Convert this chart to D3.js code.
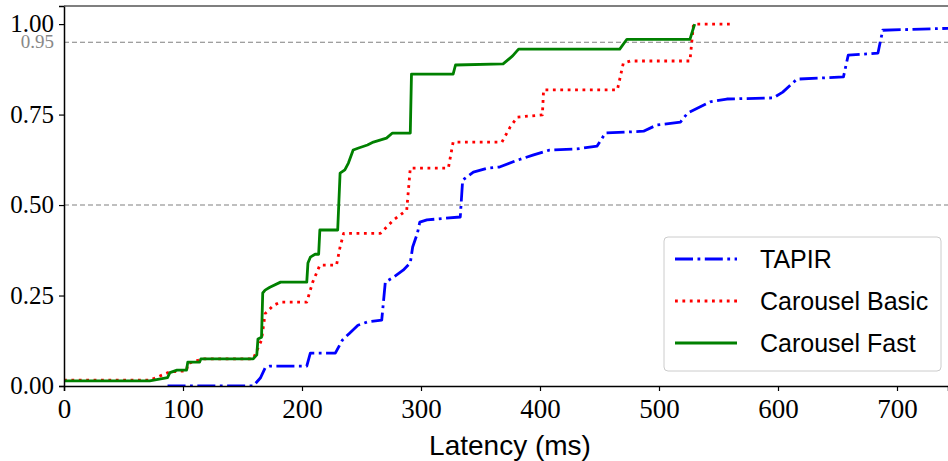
<!DOCTYPE html>
<html>
<head>
<meta charset="utf-8">
<script src="https://cdn.jsdelivr.net/npm/d3@7"></script>
<style>
	body { margin: 0; background: #fff; }
	.tick text { font-family: "Liberation Serif", "DejaVu Serif", serif; fill: #000; }
	.legend text { font-family: "Liberation Sans", Arial, sans-serif; }
</style>
</head>
<body>
<svg class="chart"></svg>
<script>
// Series names (legend order)
var seriesNames = ["TAPIR", "Carousel Basic", "Carousel Fast"];

// TAPIR latency (ms) and cumulative fraction
var tapirLatency = [87, 159, 162, 165, 169, 173, 204, 207, 228, 234, 240, 247, 255, 267, 270, 277, 285, 291, 293, 297, 299, 305, 333, 335, 344, 356, 366, 381, 394, 408, 431, 448, 455, 487, 498, 518, 524, 543, 557, 596, 604, 616, 655, 659, 684, 688, 760];
var tapirCdf = [0.0, 0.0, 0.011, 0.022, 0.05, 0.055, 0.055, 0.091, 0.091, 0.127, 0.146, 0.168, 0.177, 0.182, 0.287, 0.301, 0.32, 0.34, 0.384, 0.422, 0.453, 0.459, 0.467, 0.569, 0.591, 0.602, 0.605, 0.624, 0.638, 0.652, 0.655, 0.663, 0.699, 0.704, 0.721, 0.729, 0.754, 0.785, 0.793, 0.796, 0.812, 0.848, 0.854, 0.914, 0.92, 0.983, 0.99];

// Carousel Basic
var basicLatency = [0, 72, 89, 103, 104, 117, 159, 166, 169, 176, 182, 204, 209, 215, 229, 232, 235, 266, 277, 288, 291, 323, 327, 368, 375, 381, 402, 403, 465, 470, 476, 526, 529, 560];
var basicCdf = [0.016, 0.016, 0.039, 0.042, 0.062, 0.075, 0.075, 0.127, 0.2, 0.223, 0.232, 0.232, 0.287, 0.334, 0.334, 0.384, 0.422, 0.422, 0.459, 0.486, 0.602, 0.602, 0.674, 0.674, 0.716, 0.743, 0.749, 0.818, 0.818, 0.892, 0.898, 0.898, 1.0, 1.0];

// Carousel Fast
var fastLatency = [0, 72, 87, 89, 95, 103, 104, 114, 115, 159, 162, 163, 166, 167, 169, 173, 182, 204, 205, 207, 211, 214, 215, 230, 232, 236, 239, 243, 247, 255, 260, 271, 276, 291, 292, 327, 329, 369, 377, 382, 467, 473, 526, 529, 530];
var fastCdf = [0.014, 0.014, 0.023, 0.037, 0.044, 0.044, 0.066, 0.066, 0.075, 0.075, 0.086, 0.13, 0.135, 0.257, 0.265, 0.273, 0.287, 0.287, 0.34, 0.356, 0.364, 0.364, 0.431, 0.431, 0.588, 0.597, 0.616, 0.652, 0.657, 0.666, 0.674, 0.685, 0.699, 0.699, 0.862, 0.862, 0.887, 0.89, 0.912, 0.931, 0.931, 0.958, 0.958, 0.99, 1.0];

// Tick values and reference levels
var xTicks = [0, 100, 200, 300, 400, 500, 600, 700];
var yTicks = [0, 0.25, 0.5, 0.75, 1.0];
var refLevels = [0.5, 0.95];

function makeCdfChart() {

	var margin = {top: 6, right: 0, bottom: 75, left: 64},
		width = 948 - margin.left - margin.right,
		height = 461 - margin.top - margin.bottom;

	var x = d3.scaleLinear()
		.domain([0, width / 1.19])
		.range([0, width]);

	var y = d3.scaleLinear()
		.domain([0, 1.05])
		.range([height, 0]);

	var svg = d3.select(".chart")
		.attr("width", 948)
		.attr("height", 461);

	var chart = svg.append("g")
		.attr("transform", "translate(" + margin.left + "," + margin.top + ")");

	chart.append("clipPath")
		.attr("id", "plotclip")
	  .append("rect")
		.attr("width", width)
		.attr("height", height);

	// Reference lines
	chart.selectAll(".ref")
		.data(refLevels)
	  .enter().append("line")
		.attr("class", "ref")
		.attr("x1", 0)
		.attr("x2", width)
		.attr("y1", function(d) { return y(d); })
		.attr("y2", function(d) { return y(d); })
		.attr("stroke", "#808080")
		.attr("stroke-width", 1.1)
		.attr("stroke-dasharray", "5,3");

	var series = [
		{name: seriesNames[0], xs: tapirLatency, ys: tapirCdf, color: "#0000ff", dash: "18,4.5,2.8,4.5"},
		{name: seriesNames[1], xs: basicLatency, ys: basicCdf, color: "#ff0000", dash: "2.8,4.6"},
		{name: seriesNames[2], xs: fastLatency, ys: fastCdf, color: "#008000", dash: null}
	];

	var line = d3.line()
		.x(function(d) { return x(d[0]); })
		.y(function(d) { return y(d[1]); });

	// Draw lines
	chart.selectAll(".series")
		.data(series)
	  .enter().append("path")
		.attr("class", "series")
		.attr("clip-path", "url(#plotclip)")
		.attr("fill", "none")
		.attr("stroke", function(d) { return d.color; })
		.attr("stroke-width", 2.8)
		.attr("stroke-linejoin", "round")
		.attr("stroke-dasharray", function(d) { return d.dash; })
		.attr("d", function(d) { return line(d3.zip(d.xs, d.ys)); });

	// Add the x axis
	var xAxis = chart.append("g")
		.attr("class", "x axis")
		.attr("transform", "translate(0," + height + ")")
		.call(d3.axisBottom(x).tickValues(xTicks).tickSize(5).tickPadding(4).tickFormat(d3.format("d")));
	xAxis.selectAll("text").attr("font-size", 27).attr("dy", "0.85em");

	// Add the y axis
	var yAxis = chart.append("g")
		.attr("class", "y axis")
		.call(d3.axisLeft(y).tickValues(yTicks).tickSize(5).tickPadding(5).tickFormat(d3.format(".2f")));
	yAxis.selectAll("text").attr("font-size", 25).attr("dy", "0.3em");
	chart.selectAll(".axis .domain").attr("stroke-width", 1.5);
	chart.selectAll(".axis .tick line").attr("stroke-width", 1.2);
	chart.selectAll(".axis").attr("font-family", null);

	// 0.95 label
	chart.append("text")
		.attr("x", -10)
		.attr("y", y(0.95))
		.attr("dy", "0.33em")
		.attr("text-anchor", "end")
		.attr("font-family", "Liberation Serif, serif")
		.attr("font-size", 19)
		.attr("fill", "#888")
		.text("0.95");

	// Top border
	chart.append("line")
		.attr("x1", 0)
		.attr("x2", width)
		.attr("y1", 0)
		.attr("y2", 0)
		.attr("stroke", "#555")
		.attr("stroke-width", 1.5);

	// Axis title
	chart.append("text")
		.attr("x", 510 - margin.left)
		.attr("y", 455 - margin.top)
		.attr("text-anchor", "middle")
		.attr("font-family", "Liberation Sans, Arial, sans-serif")
		.attr("font-size", 28)
		.text("Latency (ms)");

	// Legend
	var legend = svg.append("g")
		.attr("class", "legend")
		.attr("transform", "translate(664,237)");

	legend.append("rect")
		.attr("width", 277)
		.attr("height", 134)
		.attr("rx", 4)
		.attr("fill", "#fff")
		.attr("fill-opacity", 0.8)
		.attr("stroke", "#ccc")
		.attr("stroke-width", 1);

	var rows = legend.selectAll(".row")
		.data(series)
	  .enter().append("g")
		.attr("class", "row")
		.attr("transform", function(d, i) { return "translate(0," + (22 + i * 42) + ")"; });

	rows.append("line")
		.attr("x1", 11)
		.attr("x2", 73)
		.attr("stroke", function(d) { return d.color; })
		.attr("stroke-width", 2.8)
		.attr("stroke-dasharray", function(d) { return d.dash; });

	rows.append("text")
		.attr("x", 96)
		.attr("dy", "0.36em")
		.attr("font-size", 25)
		.text(function(d) { return d.name; });
}

makeCdfChart();
</script>
</body>
</html>
